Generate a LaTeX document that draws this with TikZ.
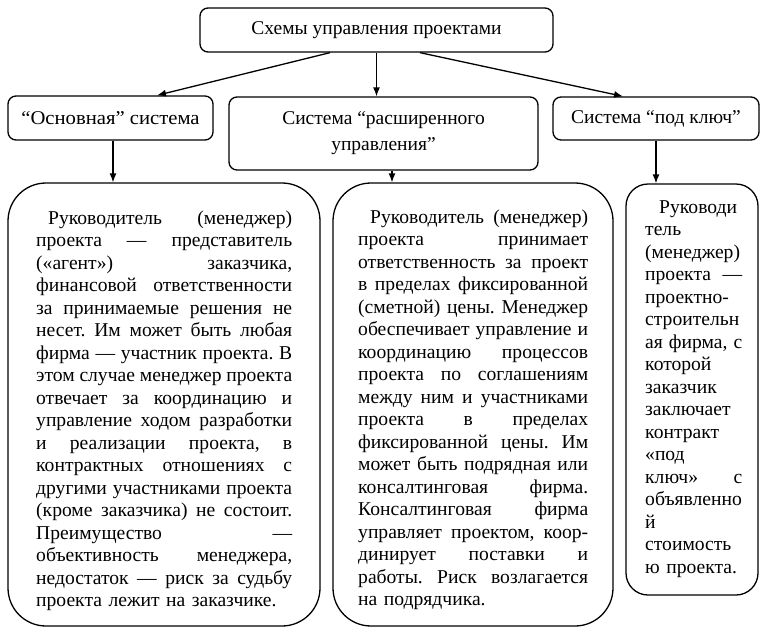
\documentclass[tikz,border=0pt]{standalone}
\usepackage{fontspec}
\setmainfont{Liberation Serif}
\newfontfamily\widefont{Liberation Serif}[FakeStretch=1.06]
\usetikzlibrary{arrows.meta}
\newcommand{\jl}[1]{\noindent\hbox to\hsize{\spaceskip=0.25em plus 1fil minus 0.06em\xspaceskip=\spaceskip #1}\par}
\newcommand{\plainline}[1]{\noindent\hbox{#1}\par}
\begin{document}
\begin{tikzpicture}[x=1pt,y=-1pt,
  box/.style={draw, line width=1.3pt, rounded corners=8pt, align=center, inner sep=0pt,
    font=\fontsize{19.5}{26}\selectfont},
  bigbox/.style={draw, line width=1.3pt, rounded corners=38pt, inner sep=0pt},
  body/.style={anchor=north west, inner sep=0pt,
    font=\fontsize{19.6}{22.5}\selectfont\frenchspacing},
  arr/.style={-{Latex[length=9pt,width=7pt]}, line width=1.3pt}]
\useasboundingbox (0,0) rectangle (771,640);
\fill[white] (0,0) rectangle (771,640);
% top
\node[box, minimum width=353pt, minimum height=44pt] (top) at (376.5,30) {Схемы управления проектами};
% level 2
\node[box, minimum width=205pt, minimum height=44pt] (a) at (110.5,118) {\widefont “Основная” система};
\node[box, minimum width=309pt, minimum height=73pt] (b) at (383.5,133.5) {Система “расширенного\\управления”};
\node[box, minimum width=206pt, minimum height=43pt] (c) at (656,118.5) {Система “под ключ”};
% level 3 boxes
\node[bigbox, minimum width=312pt, minimum height=443pt] (d) at (164,404.5) {};
\node[bigbox, minimum width=280pt, minimum height=443pt] (e) at (473,404.5) {};
\node[bigbox, rounded corners=22pt, minimum width=132pt, minimum height=411pt] (f) at (692,389.5) {};
% arrows
\draw[arr] ([xshift=-46.5pt]top.south) -- ([xshift=46.5pt]a.north);
\draw[arr] (top.south) -- (top.south |- b.north);
\draw[arr] ([xshift=43.5pt]top.south) -- ([xshift=-33pt]c.north);
\draw[arr] ([xshift=2.5pt]a.south) -- ([xshift=2.5pt]a.south |- d.north);
\draw[arr] ([xshift=8.5pt]b.south) -- ([xshift=8.5pt]b.south |- e.north);
\draw[arr] (c.south) -- (c.south |- f.north);
% texts
\node[body, text width=256pt] (dt) at (36,208.5) {%
\jl{\strut\hspace*{12pt}Руководитель (менеджер)}
\jl{проекта — представитель}
\jl{(«агент») заказчика,}
\jl{финансовой ответственности}
\jl{за принимаемые решения не}
\jl{несет. Им может быть любая}
\jl{фирма — участник проекта. В}
\jl{этом случае менеджер проекта}
\jl{отвечает за координацию и}
\jl{управление ходом разработки}
\jl{и реализации проекта, в}
\jl{контрактных отношениях с}
\jl{другими участниками проекта}
\jl{(кроме заказчика) не состоит.}
\jl{Преимущество —}
\jl{объективность менеджера,}
\jl{недостаток — риск за судьбу}
\plainline{проекта лежит на заказчике.}};
\node[body, text width=230pt] (et) at (358,207.2) {%
\jl{\strut\hspace*{12pt}Руководитель (менеджер)}
\jl{проекта принимает}
\jl{ответственность за проект}
\jl{в пределах фиксированной}
\jl{(сметной) цены. Менеджер}
\jl{обеспечивает управление и}
\jl{координацию процессов}
\jl{проекта по соглашениям}
\jl{между ним и участниками}
\jl{проекта в пределах}
\jl{фиксированной цены. Им}
\jl{может быть подрядная или}
\jl{консалтинговая фирма.}
\jl{Консалтинговая фирма}
\jl{управляет проектом, коор-}
\jl{динирует поставки и}
\jl{работы. Риск возлагается}
\plainline{на подрядчика.}};
\node[body, text width=97pt] (ft) at (645,197.2) {%
\plainline{\strut\hspace*{14pt}Руководи}
\plainline{тель}
\plainline{(менеджер)}
\jl{проекта —}
\plainline{проектно-}
\plainline{строительн}
\jl{ая фирма, с}
\plainline{которой}
\plainline{заказчик}
\plainline{заключает}
\plainline{контракт}
\plainline{«под}
\jl{ключ» с}
\plainline{объявленно}
\plainline{й}
\plainline{стоимость}
\plainline{ю проекта.}};
\end{tikzpicture}
\end{document}
